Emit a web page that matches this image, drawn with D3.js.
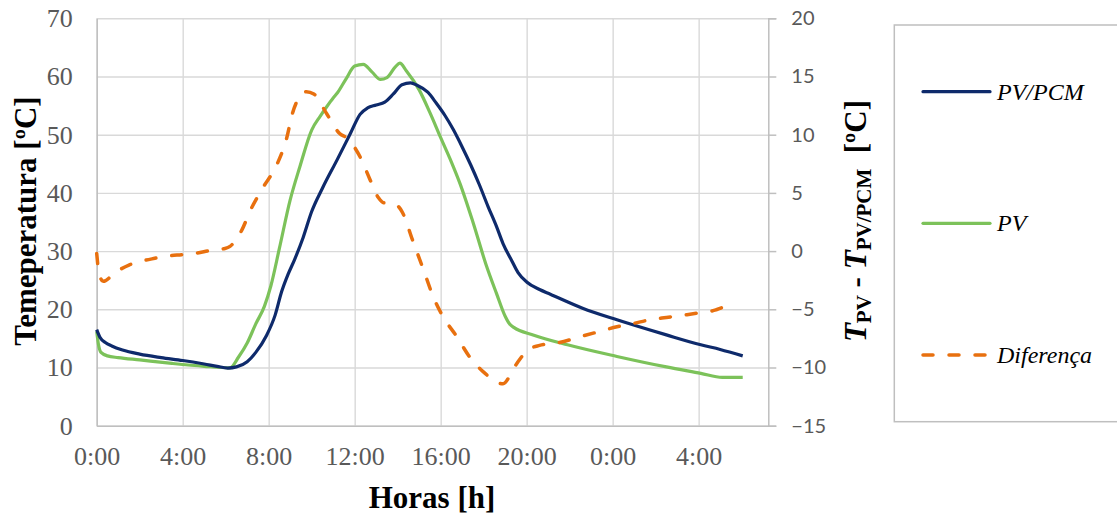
<!DOCTYPE html>
<html>
<head>
<meta charset="utf-8">
<script src="https://cdn.jsdelivr.net/npm/d3@7"></script>
<style>
  html, body { margin: 0; padding: 0; background: #fff; }
  svg { display: block; }
  .serif { font-family: "Liberation Serif", "DejaVu Serif", serif; }
  .sans { font-family: Lato, "Open Sans", sans-serif; }
</style>
</head>
<body>
<svg id="chart" width="1117" height="517"></svg>
<script>
// Hours since midnight of the first day
const hours = [0, 0.15, 0.4, 0.7, 1.2, 2.0, 3.0, 4.0, 5.0, 5.6, 6.1, 6.5, 7.0, 7.4, 7.9, 8.3, 8.6, 8.9, 9.2, 9.6, 10.0, 10.5, 11.2, 11.8, 12.25, 12.6, 13.0, 13.4, 13.8, 14.2, 14.6, 14.9, 15.4, 15.8, 16.2, 16.6, 17.0, 17.4, 17.8, 18.2, 18.6, 18.9, 19.3, 19.6, 20.0, 20.6, 21.1, 22.6, 24.2, 26.5, 28.1, 29.0, 30.05];
// Module temperature with phase-change material [ºC]
const pvPcm = [16.5, 15.2, 14.3, 13.7, 13.0, 12.3, 11.7, 11.2, 10.6, 10.2, 9.9, 10.1, 11.0, 12.6, 15.5, 19.0, 23.0, 26.0, 28.5, 32.3, 36.8, 40.8, 45.8, 50.2, 53.5, 54.6, 55.1, 55.6, 57.0, 58.6, 58.9, 58.5, 57.3, 55.4, 53.3, 50.8, 47.9, 44.8, 41.4, 37.7, 34.2, 31.3, 28.4, 26.3, 24.7, 23.4, 22.6, 20.2, 18.2, 15.6, 13.9, 13.1, 12.0];

const hoursPv = [0, 0.08, 0.2, 0.5, 1.0, 2.0, 3.5, 5.0, 6.2, 6.6, 7.0, 7.4, 7.8, 8.1, 8.5, 9.0, 9.45, 10.0, 10.4, 10.7, 11.0, 11.2, 11.6, 12.0, 12.4, 12.8, 13.2, 13.5, 13.9, 14.1, 14.4, 15.0, 15.5, 16.0, 16.5, 16.9, 17.5, 18.1, 18.6, 19.0, 19.2, 19.4, 20.3, 21.9, 24.2, 26.5, 28.1, 29.1, 30.05];
// Reference module temperature [ºC]
const pv = [16.2, 14.0, 12.6, 12.0, 11.7, 11.3, 10.7, 10.2, 9.95, 11.8, 14.2, 17.5, 20.5, 24.0, 30.5, 38.8, 44.5, 50.8, 53.2, 54.8, 56.3, 57.2, 59.6, 61.8, 62.1, 60.8, 59.5, 59.8, 61.7, 62.3, 61.0, 57.7, 53.8, 49.5, 45.3, 41.6, 35.0, 27.8, 22.7, 18.8, 17.5, 16.9, 15.6, 13.9, 11.9, 10.1, 9.0, 8.3, 8.3];

const hoursDiff = [0, 0.1, 0.3, 0.85, 1.5, 2.0, 2.7, 3.3, 4.0, 4.6, 5.3, 5.9, 6.2, 6.45, 6.75, 7.15, 7.75, 8.4, 8.85, 9.1, 9.35, 9.75, 10.1, 10.7, 11.3, 11.65, 12.25, 12.7, 13.1, 13.35, 13.8, 14.2, 14.7, 15.2, 15.65, 16.1, 16.75, 17.35, 18.0, 18.9, 19.45, 20.05, 20.6, 21.4, 22.6, 23.4, 24.2, 25.0, 25.75, 26.5, 27.3, 28.05, 28.8, 29.2, 29.6];
// Temperature difference T_PV - T_PV/PCM [ºC]
const diff = [-0.2, -1.8, -2.6, -1.85, -1.2, -0.9, -0.62, -0.42, -0.3, -0.18, 0.05, 0.2, 0.4, 0.9, 1.8, 3.5, 5.5, 7.5, 9.8, 11.8, 13.0, 13.7, 13.5, 11.8, 10.1, 9.7, 8.1, 6.2, 4.6, 4.15, 4.1, 3.4, 0.9, -1.6, -3.9, -5.6, -7.35, -9.1, -10.4, -11.4, -9.9, -8.5, -8.1, -7.9, -7.3, -6.9, -6.5, -6.2, -5.9, -5.7, -5.5, -5.3, -5.05, -4.75, -4.2];

const xTicks = [0, 4, 8, 12, 16, 20, 24, 28];
const xTickLabels = ["0:00", "4:00", "8:00", "12:00", "16:00", "20:00", "0:00", "4:00"];
const leftTicks = [0, 10, 20, 30, 40, 50, 60, 70];
const rightTicks = [-15, -10, -5, 0, 5, 10, 15, 20];
const seriesNames = ["PV/PCM", "PV", "Diferença"];

const colors = { pcm: "#0e2a6b", pv: "#7cc25a", diff: "#e8700f", grid: "#d9d9d9", axis: "#bfbfbf", tick: "#595959" };

const svg = d3.select("#chart");
const L = 96.7, R = 768.3, T = 18.3, B = 425.7;

const x = d3.scaleLinear().domain([0, 31.24]).range([L, R]);
const yL = d3.scaleLinear().domain([0, 70]).range([B, T]);
const yR = d3.scaleLinear().domain([-15, 20]).range([B, T]);

// Gridlines
svg.append("g")
  .attr("transform", `translate(${L},0)`)
  .call(d3.axisLeft(yL).tickValues(leftTicks).tickSize(-(R - L)).tickFormat(""))
  .call(g => g.select(".domain").remove())
  .call(g => g.selectAll("line").attr("stroke", colors.grid).attr("stroke-width", 1.4));
svg.append("g")
  .attr("transform", `translate(0,${B})`)
  .call(d3.axisBottom(x).tickValues(xTicks).tickSize(-(B - T)).tickFormat(""))
  .call(g => g.select(".domain").remove())
  .call(g => g.selectAll("line").attr("stroke", colors.grid).attr("stroke-width", 1.4));

// Left axis
svg.append("g")
  .attr("transform", `translate(${L},0)`)
  .call(d3.axisLeft(yL).tickValues(leftTicks).tickSize(0).tickPadding(24))
  .attr("font-family", null).attr("font-size", null)
  .call(g => g.select(".domain").attr("stroke", colors.axis).attr("stroke-width", 1.5))
  .call(g => g.selectAll("text").attr("class", "serif").attr("fill", colors.tick).attr("font-size", 26));

// Bottom axis
svg.append("g")
  .attr("transform", `translate(0,${B})`)
  .call(d3.axisBottom(x).tickValues(xTicks).tickSize(0).tickPadding(21).tickFormat((d, i) => xTickLabels[i]))
  .attr("font-family", null).attr("font-size", null)
  .call(g => g.select(".domain").attr("stroke", colors.axis).attr("stroke-width", 1.5))
  .call(g => g.selectAll("text").attr("class", "serif").attr("fill", colors.tick).attr("font-size", 26));

// Right axis
svg.append("g")
  .attr("transform", `translate(${R},0)`)
  .call(d3.axisRight(yR).tickValues(rightTicks).tickSize(8).tickPadding(15).tickFormat(d3.format("d")))
  .attr("font-family", null).attr("font-size", null)
  .call(g => g.select(".domain").attr("stroke", colors.axis).attr("stroke-width", 1.5))
  .call(g => g.selectAll("line").attr("stroke", colors.axis).attr("stroke-width", 1.5))
  .call(g => g.selectAll("text").attr("class", "sans").attr("fill", colors.tick).attr("font-size", 20));

// Series
const linePcm = d3.line().x((d, i) => x(hours[i])).y(d => yL(d)).curve(d3.curveMonotoneX);
const linePv = d3.line().x((d, i) => x(hoursPv[i])).y(d => yL(d)).curve(d3.curveMonotoneX);
const lineDiff = d3.line().x((d, i) => x(hoursDiff[i])).y(d => yR(d)).curve(d3.curveMonotoneX);

svg.append("path").datum(pv).attr("d", linePv)
  .attr("fill", "none").attr("stroke", colors.pv).attr("stroke-width", 3.2).attr("stroke-linejoin", "round");
svg.append("path").datum(pvPcm).attr("d", linePcm)
  .attr("fill", "none").attr("stroke", colors.pcm).attr("stroke-width", 3.2).attr("stroke-linejoin", "round");
svg.append("path").datum(diff).attr("d", lineDiff)
  .attr("fill", "none").attr("stroke", colors.diff).attr("stroke-width", 3.5)
  .attr("stroke-dasharray", "10,16").attr("stroke-linecap", "round").attr("stroke-linejoin", "round");

// Axis titles
svg.append("text")
  .attr("class", "serif")
  .attr("transform", "translate(36,221) rotate(-90)")
  .attr("text-anchor", "middle")
  .attr("font-size", 31).attr("font-weight", "bold")
  .text("Temeperatura [ºC]");

svg.append("text")
  .attr("class", "serif")
  .attr("x", 432).attr("y", 508)
  .attr("text-anchor", "middle")
  .attr("font-size", 31).attr("font-weight", "bold")
  .text("Horas [h]");

const rt = svg.append("text")
  .attr("class", "serif")
  .attr("transform", "translate(866,221) rotate(-90)")
  .attr("text-anchor", "middle")
  .attr("font-size", 31).attr("font-weight", "bold");
rt.append("tspan").attr("font-style", "italic").text("T");
rt.append("tspan").attr("dy", 5).attr("font-size", 21).text("PV");
rt.append("tspan").attr("dy", -5).text(" - ");
rt.append("tspan").attr("font-style", "italic").text("T");
rt.append("tspan").attr("dy", 5).attr("font-size", 21).text("PV/PCM");
rt.append("tspan").attr("dy", -5).text("\u00a0\u00a0[ºC]");

// Legend
svg.append("rect")
  .attr("x", 894.3).attr("y", 25).attr("width", 260).attr("height", 396.7)
  .attr("fill", "none").attr("stroke", colors.axis).attr("stroke-width", 1.5);

const legendRows = [
  { name: seriesNames[0], color: colors.pcm, dash: null, y: 91.7 },
  { name: seriesNames[1], color: colors.pv, dash: null, y: 223.3 },
  { name: seriesNames[2], color: colors.diff, dash: "10,16", y: 355 }
];
const lg = svg.append("g");
legendRows.forEach(r => {
  lg.append("line")
    .attr("x1", 923).attr("x2", 990).attr("y1", r.y).attr("y2", r.y)
    .attr("stroke", r.color).attr("stroke-width", r.dash ? 3.5 : 3.2)
    .attr("stroke-linecap", "round")
    .attr("stroke-dasharray", r.dash);
  lg.append("text")
    .attr("class", "serif")
    .attr("x", 997).attr("y", r.y + 8)
    .attr("font-size", 24).attr("font-style", "italic")
    .text(r.name);
});
</script>
</body>
</html>
